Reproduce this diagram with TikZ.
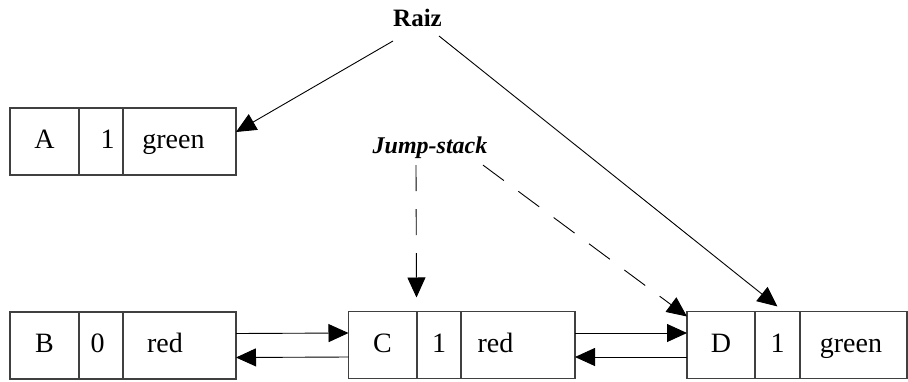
\documentclass[tikz,border=0pt]{standalone}
\usepackage{fontspec}
\setmainfont{Liberation Serif}
\usetikzlibrary{arrows.meta}
\begin{document}
\begin{tikzpicture}[x=1pt,y=-1pt,
  cell/.style={draw=black!75,line width=1.3pt,minimum height=67pt,inner sep=0pt,outer sep=0pt,
    text height=20pt,text depth=6pt,font=\fontsize{28}{32}\selectfont},
  lbl/.style={inner sep=0pt},
  arr/.style={line width=0.9pt,-{Triangle[length=20pt,width=18pt]}},
  darr/.style={arr,dash pattern=on 26pt off 18pt}]
\useasboundingbox (0,0) rectangle (908,381);
% record A
\node[cell,minimum width=69pt] (A1) at (44.5,141.5) {A};
\node[cell,minimum width=44pt] (A2) at (101,141.5) {\hspace*{13pt}1};
\node[cell,minimum width=113pt] (A3) at (179.5,141.5) {green\hspace*{12pt}};
% record B
\node[cell,minimum width=69pt] (B1) at (44.5,345.5) {B};
\node[cell,minimum width=44pt] (B2) at (101,345.5) {0\hspace*{7pt}};
\node[cell,minimum width=113pt] (B3) at (179.5,345.5) {red\hspace*{29pt}};
% record C
\node[cell,minimum width=68pt] (C1) at (382.5,345) {C};
\node[cell,minimum width=44pt] (C2) at (439,345) {1};
\node[cell,minimum width=114pt] (C3) at (518,345) {red\hspace*{45pt}};
% record D
\node[cell,minimum width=68pt] (D1) at (721,345) {D};
\node[cell,minimum width=45pt] (D2) at (777.5,345) {1};
\node[cell,minimum width=107pt] (D3) at (853.5,345) {green\hspace*{5pt}};
% labels
\node[lbl,font=\fontsize{25}{28}\selectfont\bfseries] (raiz) at (417.5,18) {Raiz};
\node[lbl,font=\fontsize{24}{27}\selectfont\bfseries\itshape] (js) at (430,148) {Jump-stack};
% Raiz connectors
\draw[arr] ([xshift=-24.5pt,yshift=-14pt]raiz.south) -- ([yshift=9.5pt]A3.east);
\draw[arr] ([xshift=21.5pt,yshift=-9pt]raiz.south) -- ([yshift=5pt]D2.north);
% Jump-stack connectors
\draw[darr] ([xshift=-14pt,yshift=-6pt]js.south) -- ([yshift=14pt]C1.north east);
\draw[darr] ([xshift=53pt,yshift=-6pt]js.south) -- ([yshift=-5pt]D1.north west);
% list links
\draw[arr] ([yshift=12pt]B3.east) -- ([yshift=12pt]C1.west);
\draw[arr] ([yshift=-12pt]C1.west) -- ([yshift=-12pt]B3.east);
\draw[arr] ([yshift=12pt]C3.east) -- ([yshift=12pt]D1.west);
\draw[arr] ([yshift=-12pt]D1.west) -- ([yshift=-12pt]C3.east);
\end{tikzpicture}
\end{document}
